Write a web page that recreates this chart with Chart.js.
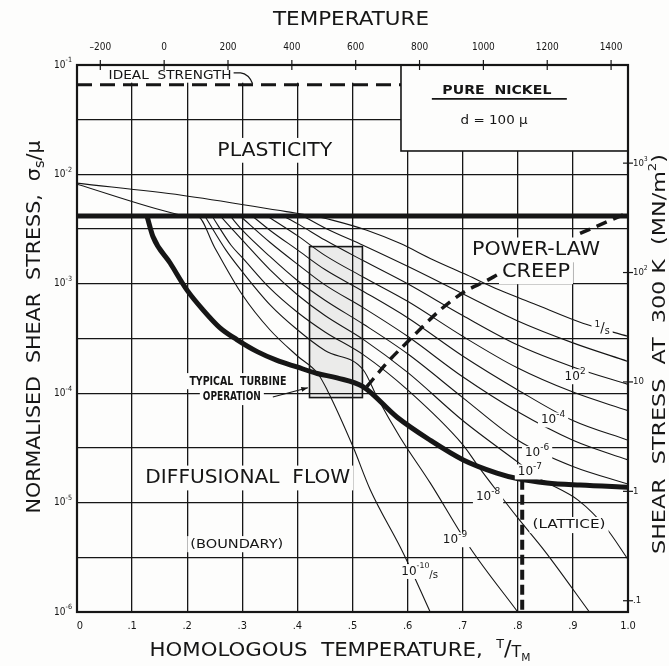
<!DOCTYPE html>
<html>
<head>
<meta charset="utf-8">
<script src="https://cdn.jsdelivr.net/npm/chart.js@4.4.1/dist/chart.umd.min.js"></script>
<style>
  html, body { margin: 0; padding: 0; background: #fdfdfc; }
  #wrap { width: 669px; height: 666px; position: relative; }
</style>
</head>
<body>
<div id="wrap"><canvas id="map"></canvas></div>
<script>
// Deformation map for pure nickel, d = 100 micron
// every series: [homologous temperature T/TM, log10(shear stress / mu)]
var TM = 1726;      // melting point, K
var MU300 = 78900;  // shear modulus at 300 K, MN/m2

var homTicks = [0, 0.1, 0.2, 0.3, 0.4, 0.5, 0.6, 0.7, 0.8, 0.9, 1.0];
var homTickLabels = ['0', '.1', '.2', '.3', '.4', '.5', '.6', '.7', '.8', '.9', '1.0'];
var celsiusTicks = [-200, 0, 200, 400, 600, 800, 1000, 1200, 1400];
var stressTicks = [0.1, 1, 10, 100, 1000];
var stressTickLabels = [['.1', ''], ['1', ''], ['10', ''], ['10', '2'], ['10', '3']];
var decadeTicks = [-1, -2, -3, -4, -5, -6];
var gridLevels = [-1, -1.5, -2, -2.5, -3, -3.5, -4, -4.5, -5, -5.5, -6];

// field boundaries
var idealStrength = [[0, -1.18], [0.588, -1.18]];
var plasticity = [[0, -2.38], [1.0, -2.38]];
var diffusional = [[0.127, -2.38], [0.138, -2.57], [0.169, -2.81], [0.2, -3.06], [0.229, -3.24], [0.259, -3.40],
  [0.29, -3.51], [0.327, -3.62], [0.363, -3.70], [0.399, -3.76], [0.436, -3.82], [0.472, -3.86], [0.519, -3.94],
  [0.581, -4.22], [0.641, -4.43], [0.701, -4.61], [0.762, -4.73], [0.799, -4.78], [0.853, -4.82], [0.913, -4.84], [1.0, -4.86]];
var coreToLattice = [[0.526, -3.94], [0.563, -3.72], [0.604, -3.51], [0.659, -3.24], [0.701, -3.08], [0.744, -2.97],
  [0.762, -2.92], [0.84, null], [0.913, -2.54], [0.991, -2.37]];
var boundaryToLattice = [[0.808, -4.79], [0.808, -6.0]];

// strain-rate contours, 1/s down to 1e-10/s
var rate0 = [[0, -2.08], [0.19, -2.19], [0.38, -2.34], [0.43, -2.38], [0.465, -2.42], [0.526, -2.51], [0.586, -2.63],
  [0.646, -2.78], [0.708, -2.92], [0.768, -3.06], [0.828, -3.18], [0.918, -3.36], [1.0, -3.48]];
var rate1 = [[0.41, -2.38], [0.45, -2.49], [0.52, -2.65], [0.6, -2.84], [0.7, -3.09], [0.8, -3.34], [0.9, -3.54], [1.0, -3.71]];
var rate2 = [[0.374, -2.38], [0.4, -2.45], [0.45, -2.60], [0.52, -2.79], [0.6, -3.00], [0.7, -3.29], [0.8, -3.56], [0.9, -3.76], [1.0, -3.92]];
var rate3 = [[0.345, -2.38], [0.4, -2.56], [0.45, -2.74], [0.52, -2.94], [0.6, -3.16], [0.7, -3.48], [0.8, -3.77], [0.9, -3.99], [1.0, -4.16]];
var rate4 = [[0.318, -2.38], [0.35, -2.51], [0.4, -2.69], [0.45, -2.87], [0.52, -3.07], [0.6, -3.31], [0.7, -3.66], [0.8, -3.97], [0.9, -4.25], [1.0, -4.43]];
var rate5 = [[0.296, -2.38], [0.35, -2.62], [0.4, -2.82], [0.45, -3.01], [0.52, -3.22], [0.6, -3.48], [0.7, -3.85], [0.8, -4.17], [0.9, -4.43], [1.0, -4.61]];
var rate6 = [[0.278, -2.38], [0.3, -2.51], [0.35, -2.75], [0.4, -2.97], [0.45, -3.15], [0.52, -3.37], [0.6, -3.64], [0.7, -4.04],
  [0.8, -4.43], [0.9, -4.67], [1.0, -4.83]];
var rate7 = [[0.26, -2.38], [0.3, -2.60], [0.35, -2.87], [0.4, -3.10], [0.45, -3.29], [0.52, -3.51], [0.6, -3.81], [0.7, -4.25],
  [0.8, -4.63], [0.84, -4.78], [0.91, -4.98], [0.96, -5.23], [1.0, -5.52]];
var rate8 = [[0.245, -2.38], [0.28, -2.65], [0.3, -2.76], [0.35, -3.04], [0.4, -3.26], [0.45, -3.44], [0.52, -3.65], [0.6, -3.97],
  [0.7, -4.47], [0.73, -4.68], [0.76, -4.88], [0.8, -5.14], [0.85, -5.45], [0.93, -6.0]];
var rate9 = [[0.232, -2.38], [0.27, -2.69], [0.3, -2.89], [0.35, -3.19], [0.4, -3.42], [0.45, -3.61], [0.52, -3.79], [0.545, -4.04],
  [0.586, -4.40], [0.641, -4.82], [0.713, -5.41], [0.8, -6.0]];
var rate10 = [[0, -2.09], [0.178, -2.36], [0.2, -2.38], [0.218, -2.38], [0.25, -2.67], [0.3, -3.10], [0.35, -3.42], [0.4, -3.66],
  [0.437, -3.82], [0.454, -3.97], [0.501, -4.49], [0.532, -4.88], [0.592, -5.46], [0.641, -6.0]];

var BG = '#fdfdfc';
var INK = '#161616';
var LETTER = '"DejaVu Sans", "Open Sans", sans-serif';
var NARROW = '"Liberation Sans Narrow", "DejaVu Sans Condensed", "Liberation Sans", sans-serif';

function toPoints(pairs) {
  return pairs.map(function (p) {
    return { x: p[0], y: p[1] === null ? null : Math.pow(10, p[1]) };
  });
}

function thin(pairs) {
  return { data: toPoints(pairs), borderColor: INK, borderWidth: 1.1, pointRadius: 0,
    cubicInterpolationMode: 'monotone', fill: false };
}

// draws a row of text pieces [text, scale, dy] centred on cx, cy
function drawRuns(ctx, runs, cx, cy, o) {
  var size = o.size, fam = o.family || LETTER, weight = o.weight || 'normal';
  ctx.save();
  ctx.translate(cx, cy);
  if (o.rot) ctx.rotate(o.rot);
  var total = 0;
  var widths = runs.map(function (r) {
    ctx.font = weight + ' ' + (size * (r[1] || 1)) + 'px ' + fam;
    var w = ctx.measureText(r[0]).width;
    total += w;
    return w;
  });
  var sx = o.width ? o.width / total : 1;
  var start = o.align === 'right' ? -total : (o.align === 'left' ? 0 : -total / 2);
  if (o.bg) {
    ctx.fillStyle = BG;
    ctx.fillRect(start * sx - 3, -size * 0.62, total * sx + 6, size * 1.24);
  }
  ctx.scale(sx, 1);
  ctx.fillStyle = INK;
  ctx.textBaseline = 'middle';
  ctx.textAlign = 'left';
  var x = start;
  runs.forEach(function (r, i) {
    ctx.font = weight + ' ' + (size * (r[1] || 1)) + 'px ' + fam;
    ctx.fillText(r[0], x, (r[2] || 0) * size);
    x += widths[i];
  });
  ctx.restore();
  return { left: cx + start * sx, right: cx + (start + total) * sx };
}

var mapDecor = {
  id: 'mapDecor',
  beforeDatasetsDraw: function (chart) {
    var ctx = chart.ctx, a = chart.chartArea;
    var X = function (t) { return chart.scales.x.getPixelForValue(t); };
    var Y = function (l) { return chart.scales.y.getPixelForValue(Math.pow(10, l)); };
    ctx.save();
    ctx.fillStyle = BG;
    // title panel and the strip above the ideal strength
    ctx.fillRect(X(0.588), a.top - 1, a.right - X(0.588) + 1, Y(-1.786) - a.top + 1);
    ctx.fillRect(a.left, a.top - 1, X(0.588) - a.left, Y(-1.18) - a.top - 1);
    // turbine window shading
    ctx.fillStyle = 'rgba(0,0,0,0.07)';
    ctx.fillRect(X(0.422), Y(-2.66), X(0.518) - X(0.422), Y(-4.04) - Y(-2.66));
    ctx.restore();
  },
  afterDatasetsDraw: function (chart) {
    var ctx = chart.ctx, a = chart.chartArea;
    var X = function (t) { return chart.scales.x.getPixelForValue(t); };
    var Y = function (l) { return chart.scales.y.getPixelForValue(Math.pow(10, l)); };
    ctx.save();
    ctx.strokeStyle = INK;
    ctx.fillStyle = INK;

    // frame
    ctx.lineWidth = 2.2;
    ctx.strokeRect(a.left, a.top, a.right - a.left, a.bottom - a.top);

    // title panel
    ctx.lineWidth = 1.6;
    ctx.strokeRect(X(0.588), a.top, a.right - X(0.588), Y(-1.786) - a.top);
    drawRuns(ctx, [['PURE  NICKEL']], X(0.762), Y(-1.23), { size: 13, weight: 'bold', width: 109 });
    ctx.lineWidth = 1.6;
    ctx.beginPath(); ctx.moveTo(X(0.644), Y(-1.31)); ctx.lineTo(X(0.889), Y(-1.31)); ctx.stroke();
    drawRuns(ctx, [['d = 100 \u03bc']], X(0.757), Y(-1.51), { size: 12, width: 67 });

    // turbine window
    ctx.lineWidth = 1.6;
    ctx.strokeRect(X(0.422), Y(-2.66), X(0.518) - X(0.422), Y(-4.04) - Y(-2.66));
    drawRuns(ctx, [['TYPICAL  TURBINE']], X(0.292), Y(-3.89), { size: 13, weight: 'bold', family: NARROW, width: 97, bg: true });
    var op = drawRuns(ctx, [['OPERATION']], X(0.281), Y(-4.035), { size: 13, weight: 'bold', family: NARROW, width: 58, bg: true });
    var ax0 = op.right + 12, ay0 = Y(-4.035), ax1 = X(0.419), ay1 = Y(-3.95);
    ctx.lineWidth = 1.1;
    ctx.beginPath(); ctx.moveTo(ax0, ay0); ctx.lineTo(ax1, ay1); ctx.stroke();
    var ang = Math.atan2(ay1 - ay0, ax1 - ax0);
    ctx.beginPath();
    ctx.moveTo(ax1, ay1);
    ctx.lineTo(ax1 - 7 * Math.cos(ang - 0.35), ay1 - 7 * Math.sin(ang - 0.35));
    ctx.lineTo(ax1 - 7 * Math.cos(ang + 0.35), ay1 - 7 * Math.sin(ang + 0.35));
    ctx.closePath(); ctx.fill();

    // ideal strength label and hook
    var ideal = drawRuns(ctx, [['IDEAL  STRENGTH']], X(0.169), Y(-1.10), { size: 12, width: 123 });
    ctx.lineWidth = 1.3;
    ctx.beginPath();
    ctx.moveTo(ideal.right + 2, Y(-1.10) - 3);
    ctx.lineTo(ideal.right + 9, Y(-1.10) - 3);
    ctx.quadraticCurveTo(ideal.right + 17, Y(-1.10) - 2, ideal.right + 21, Y(-1.18) - 1);
    ctx.stroke();

    // field names
    drawRuns(ctx, [['PLASTICITY']], X(0.359), Y(-1.78), { size: 20, width: 115, bg: true });
    drawRuns(ctx, [['POWER-LAW']], X(0.833), Y(-2.69), { size: 20, width: 128, bg: true });
    drawRuns(ctx, [['CREEP']], X(0.833), Y(-2.89), { size: 20, width: 68, bg: true });
    drawRuns(ctx, [['DIFFUSIONAL  FLOW']], X(0.310), Y(-4.775), { size: 20, width: 205, bg: true });
    drawRuns(ctx, [['(BOUNDARY)']], X(0.290), Y(-5.38), { size: 13, width: 93, bg: true });
    drawRuns(ctx, [['(LATTICE)']], X(0.893), Y(-5.205), { size: 13, width: 73, bg: true });

    // strain-rate labels
    var rateLab = { size: 12, family: LETTER, bg: true };
    drawRuns(ctx, [['1', 0.75, -0.3], ['/', 1.1], ['s', 0.8, 0.25]], X(0.953), Y(-3.41), rateLab);
    drawRuns(ctx, [['10'], ['2', 0.75, -0.45]], X(0.904), Y(-3.85), rateLab);
    drawRuns(ctx, [['10'], ['-4', 0.75, -0.45]], X(0.864), Y(-4.245), rateLab);
    drawRuns(ctx, [['10'], ['-6', 0.75, -0.45]], X(0.835), Y(-4.55), rateLab);
    drawRuns(ctx, [['10'], ['-7', 0.75, -0.45]], X(0.822), Y(-4.72), rateLab);
    drawRuns(ctx, [['10'], ['-8', 0.75, -0.45]], X(0.746), Y(-4.95), rateLab);
    drawRuns(ctx, [['10'], ['-9', 0.75, -0.45]], X(0.686), Y(-5.34), rateLab);
    drawRuns(ctx, [['10'], ['-10', 0.65, -0.5], ['/s', 0.85, 0.3]], X(0.622), Y(-5.63), rateLab);

    // left decade labels
    decadeTicks.forEach(function (d) {
      drawRuns(ctx, [['10', 1], [String(d), 0.72, -0.45]], a.left - 5, Y(d), { size: 10, family: NARROW, align: 'right' });
    });
    // bottom labels
    homTicks.forEach(function (t, i) {
      drawRuns(ctx, [[homTickLabels[i]]], X(t) + (i === 0 ? 3 : 0), a.bottom + 14, { size: 11, family: NARROW });
    });
    // top temperature scale, deg C
    ctx.lineWidth = 1.2;
    celsiusTicks.forEach(function (c) {
      var x = X((c + 273) / TM);
      ctx.beginPath(); ctx.moveTo(x, a.top - 5); ctx.lineTo(x, a.top + 5); ctx.stroke();
      drawRuns(ctx, [[String(c).replace('-', '\u2013')]], x, a.top - 18, { size: 10, family: NARROW });
    });
    // right stress scale at 300 K
    stressTicks.forEach(function (v, i) {
      var y = Y(Math.log10(v / MU300));
      ctx.beginPath(); ctx.moveTo(a.right - 5, y); ctx.lineTo(a.right + 5, y); ctx.stroke();
      var lab = stressTickLabels[i];
      var runs = [[lab[0], 1]];
      if (lab[1]) runs.push([lab[1], 0.72, -0.45]);
      drawRuns(ctx, runs, a.right + 5, y, { size: 9.5, family: NARROW, align: 'left' });
    });

    // axis titles
    drawRuns(ctx, [['TEMPERATURE']], 351, 20, { size: 20, width: 156 });
    drawRuns(ctx, [['HOMOLOGOUS  TEMPERATURE,  '], ['T', 0.6, -0.32], ['/', 1.05], ['T', 0.75, 0.12], ['M', 0.5, 0.35]],
      340, 651, { size: 20, width: 381 });
    drawRuns(ctx, [['NORMALISED  SHEAR  STRESS,  '], ['\u03c3'], ['s', 0.7, 0.25], ['/', 1], ['\u03bc']],
      35, 327, { size: 20, width: 373, rot: -Math.PI / 2 });
    drawRuns(ctx, [['SHEAR  STRESS  AT  300 K  (MN/m'], ['2', 0.6, -0.4], [')']],
      660, 354, { size: 18, width: 400, rot: -Math.PI / 2 });
    ctx.restore();
  }
};

var datasets = [
  thin(rate0), thin(rate1), thin(rate2), thin(rate3), thin(rate4), thin(rate5),
  thin(rate6), thin(rate7), thin(rate8), thin(rate9), thin(rate10),
  { data: toPoints(diffusional), borderColor: INK, borderWidth: 5, pointRadius: 0, cubicInterpolationMode: 'monotone', fill: false },
  { data: toPoints(plasticity), borderColor: INK, borderWidth: 5, pointRadius: 0, tension: 0, fill: false },
  { data: toPoints(coreToLattice), borderColor: INK, borderWidth: 3.5, borderDash: [11, 7], pointRadius: 0,
    cubicInterpolationMode: 'monotone', spanGaps: false, fill: false },
  { data: toPoints(boundaryToLattice), borderColor: INK, borderWidth: 4, borderDash: [10, 5], pointRadius: 0, tension: 0, fill: false },
  { data: toPoints(idealStrength), borderColor: INK, borderWidth: 3, borderDash: [15, 8], pointRadius: 0, tension: 0, fill: false }
];

var gridStyle = { color: INK, lineWidth: 1.3, drawTicks: false };

var chart = new Chart(document.getElementById('map'), {
  type: 'line',
  data: { datasets: datasets },
  options: {
    responsive: true,
    maintainAspectRatio: false,
    animation: false,
    layout: { padding: { left: 77, right: 41, top: 65, bottom: 54 } },
    plugins: { legend: { display: false }, tooltip: { enabled: false } },
    scales: {
      x: {
        type: 'linear', min: 0, max: 1,
        ticks: { display: false },
        afterBuildTicks: function (s) { s.ticks = homTicks.map(function (t) { return { value: t }; }); },
        grid: gridStyle,
        border: { display: false }
      },
      y: {
        type: 'logarithmic', min: 1e-6, max: 1e-1,
        ticks: { display: false },
        afterBuildTicks: function (s) { s.ticks = gridLevels.map(function (l) { return { value: Math.pow(10, l) }; }); },
        grid: gridStyle,
        border: { display: false }
      }
    }
  },
  plugins: [mapDecor]
});
</script>
</body>
</html>
